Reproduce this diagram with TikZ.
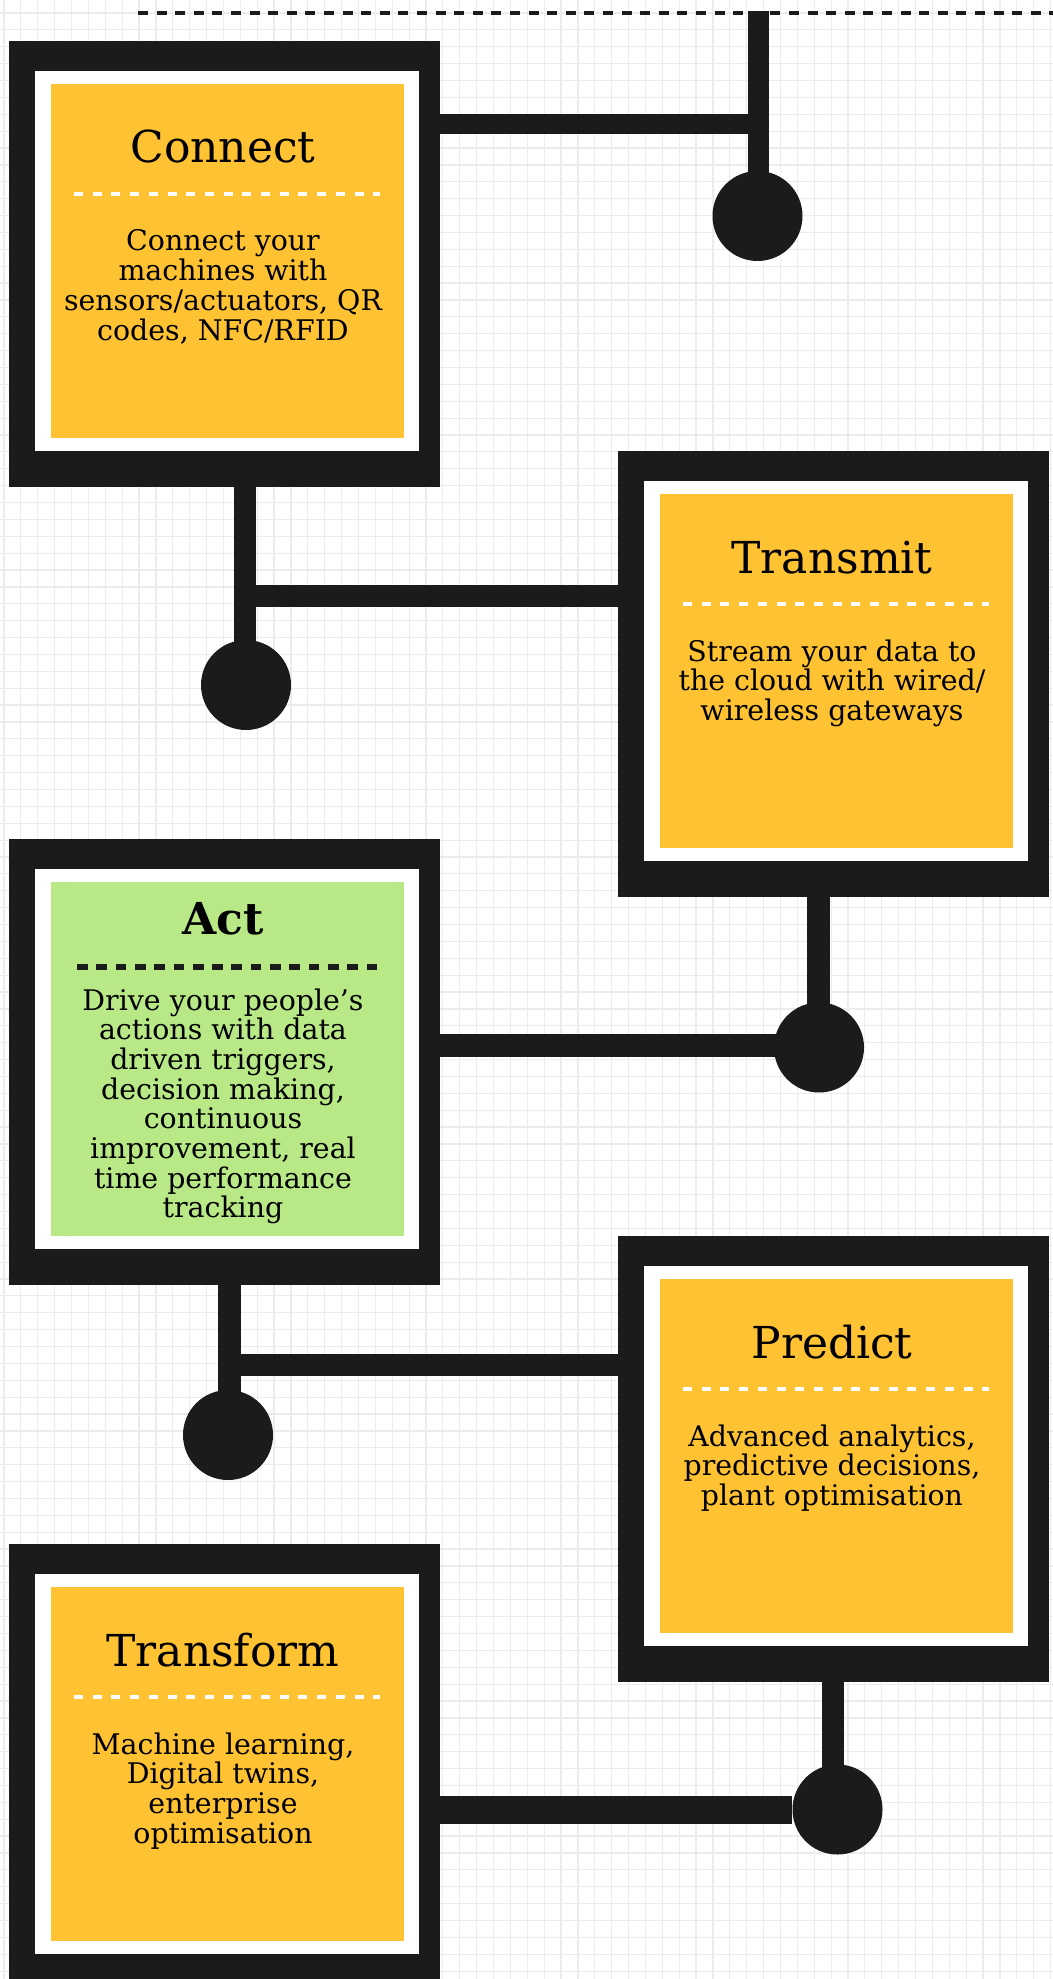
\documentclass[tikz,border=0pt]{standalone}
\usepackage{fontspec}
\setmainfont{DejaVu Serif}
\definecolor{ink}{HTML}{1A1B1A}
\definecolor{gold}{HTML}{FEC232}
\definecolor{lime}{HTML}{B8E986}
\definecolor{gridc}{HTML}{ECECEC}
\tikzset{
  outerbox/.style={fill=ink,draw=none,anchor=north west,inner sep=0,minimum width=215.5pt,minimum height=223pt},
  whitebox/.style={fill=white,draw=none,anchor=north west,inner sep=0,minimum width=192pt,minimum height=190pt},
  padbox/.style={fill=#1,draw=none,anchor=north west,inner sep=0,minimum width=176.5pt,minimum height=177pt},
  titletext/.style={anchor=base,inner sep=0,font=\fontsize{22}{26}\selectfont},
  bodytext/.style={anchor=base,inner sep=0,font=\fontsize{14.2}{14.85}\selectfont},
  wdots/.style={draw=white,line width=2.15pt,dash pattern=on 4.5pt off 4.85pt},
  conn/.style={draw=ink,line width=#1},
  conn/.default=10.5pt,
  hubdot/.style={circle,fill=ink,draw=none,inner sep=0,minimum size=45pt},
}
\newcommand{\stdcard}[5]{%
  \node[outerbox] (#1) at (#2,#3) {};
  \node[whitebox] (#1w) at ({#2+26},{#3+30}) {};
  \node[padbox=gold] (#1y) at ({#2+42},{#3+43}) {};
  \node[titletext] (#1t) at ({#2+214},{#3+122}) {#4};
  \draw[wdots] ({#2+65},{#3+153}) -- ({#2+371},{#3+153});
  \node[bodytext] (#1b) at ({#2+214},{#3+210}) {\parbox[t]{180pt}{\centering #5}};
}
\begin{document}
\begin{tikzpicture}[x=0.5pt,y=-0.5pt]
\useasboundingbox (0,0) rectangle (1053,1979);
\clip (0,0) rectangle (1053,1979);
\fill[white] (0,0) rectangle (1053,1979);
% grid
\foreach \k in {0,...,62} \draw[gridc,line width=0.6pt] ({4+\k*16.88},0) -- ({4+\k*16.88},1979);
\foreach \k in {-1,...,117} \draw[gridc,line width=0.6pt] (0,{13+\k*16.88}) -- (1053,{13+\k*16.88});
% top dashed line
\coordinate (dl) at (138,12.7);
\coordinate (dr) at (1053,12.7);
\draw[ink,line width=2pt,dash pattern=on 5pt off 4.3pt] (dl) -- (dr);

% cards
\stdcard{connect}{9}{41}{Connect}{Connect your\\machines with\\sensors/actuators, QR\\codes, NFC/RFID}
\stdcard{transmit}{618}{451}{Transmit}{Stream your data to\\the cloud with wired/\\wireless gateways}
\stdcard{predict}{618}{1236}{Predict}{Advanced analytics,\\predictive decisions,\\plant optimisation}
\stdcard{transform}{9}{1544}{Transform}{Machine learning,\\Digital twins,\\enterprise\\optimisation}

% act card
\node[outerbox] (act) at (9,839) {};
\node[whitebox] (actw) at (35,869) {};
\node[padbox=lime] (acty) at (51,882) {};
\node[titletext,font=\fontsize{22}{26}\selectfont\bfseries] (actt) at (223,934) {Act};
\draw[ink,line width=2.8pt,dash pattern=on 5.35pt off 4.3pt] (77,967) -- (382,967);
\node[bodytext] (actb) at (223,1010) {\parbox[t]{180pt}{\centering Drive your people’s\\actions with data\\driven triggers,\\decision making,\\continuous\\improvement, real\\time performance\\tracking}};

% dots
\node[hubdot] (d1) at (757.5,216) {};
\node[hubdot] (d2) at (246,685) {};
\node[hubdot] (d3) at (819,1047.5) {};
\node[hubdot] (d4) at (228,1435) {};
\node[hubdot] (d5) at (837.5,1809.5) {};

% connectors
\coordinate (topend) at (758.5,11);
\draw[conn=10.8pt] (topend) -- (topend |- d1);
\coordinate (j1) at (758.5,124);
\draw[conn=10pt] ([xshift=-1.5pt]connect.east |- j1) -- (j1);

\coordinate (v2) at (245,685);
\draw[conn=11.25pt] ([yshift=1.5pt]v2 |- connect.south) -- (v2);
\coordinate (j2) at (245,596);
\draw[conn=10.75pt] (j2) -- ([xshift=1.5pt]j2 -| transmit.west);

\coordinate (v3) at (818.5,1047.5);
\draw[conn=11.5pt] ([yshift=1.5pt]v3 |- transmit.south) -- (v3);
\coordinate (j3) at (819,1045.5);
\draw[conn=11.5pt] ([xshift=-1.5pt]act.east |- j3) -- (j3);

\coordinate (v4) at (229.5,1435);
\draw[conn=11.5pt] ([yshift=1.5pt]v4 |- act.south) -- (v4);
\coordinate (j4) at (229.5,1364.5);
\draw[conn=11pt] (j4) -- ([xshift=1.5pt]j4 -| predict.west);

\coordinate (v5) at (833,1809.5);
\draw[conn=11pt] ([yshift=1.5pt]v5 |- predict.south) -- (v5);
\draw[conn=14pt] ([xshift=-1.5pt]transform.east |- d5) -- (d5);
\end{tikzpicture}
\end{document}
